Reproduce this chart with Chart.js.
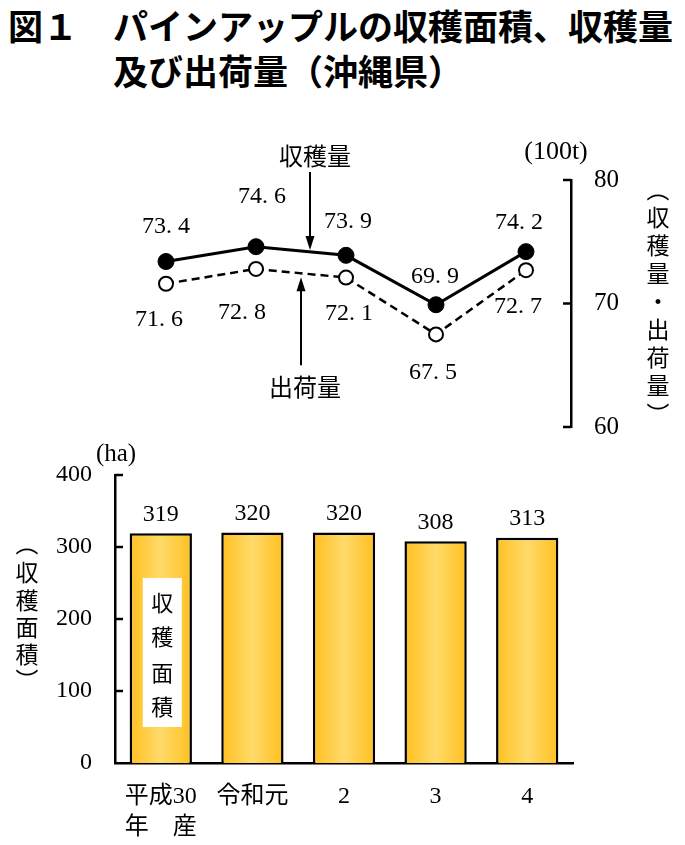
<!DOCTYPE html>
<html>
<head>
<meta charset="utf-8">
<script src="https://cdn.jsdelivr.net/npm/chart.js@4.4.0/dist/chart.umd.min.js"></script>
<style>
body{margin:0;background:#fff;width:685px;height:845px;position:relative;overflow:hidden;font-family:"Noto Sans CJK JP",sans-serif;color:#000}
.t{position:absolute;font-size:35px;font-weight:bold;line-height:1;white-space:nowrap}
#lineBox{position:absolute;left:0;top:130px;width:685px;height:335px}
#barBox{position:absolute;left:0;top:437px;width:685px;height:408px}
</style>
</head>
<body>
<div class="t" style="left:8px;top:7px">図１</div>
<div class="t" style="left:113px;top:7px">パインアップルの収穫面積、収穫量</div>
<div class="t" style="left:113px;top:52px">及び出荷量（沖縄県）</div>
<div id="lineBox"><canvas id="lineChart"></canvas></div>
<div id="barBox"><canvas id="barChart"></canvas></div>
<script>
// ---- data ----
var categories = [['平成30', '年　産'], '令和元', '2', '3', '4'];
var harvestArea = [319, 320, 320, 308, 313];        // ha
var harvestVolume = [73.4, 74.6, 73.9, 69.9, 74.2]; // 100t
var shipmentVolume = [71.6, 72.8, 72.1, 67.5, 72.7];// 100t
var volumeTicks = [60, 70, 80];
var areaTicks = [0, 100, 200, 300, 400];

var serif = '"Liberation Serif", "Noto Sans CJK JP", serif';
var jp = '"Noto Sans CJK JP", sans-serif';

function fmt(v) { return v.toFixed(1).replace('.', '. '); }

function arrow(c, x, y1, y2) {
    var dir = Math.sign(y2 - y1);
    c.lineWidth = 2;
    c.beginPath(); c.moveTo(x, y1); c.lineTo(x, y2 - dir * 10); c.stroke();
    c.beginPath(); c.moveTo(x, y2); c.lineTo(x - 4.5, y2 - dir * 14); c.lineTo(x + 4.5, y2 - dir * 14); c.closePath(); c.fill();
}

// vertical text, brackets turned on their side
function vText(c, chars, x, ys) {
    chars.forEach(function (ch, i) {
        if (ch === '（' || ch === '）') {
            c.save(); c.translate(x, ys[i]); c.rotate(Math.PI / 2); c.fillText(ch, 0, 0); c.restore();
        } else {
            c.fillText(ch, x, ys[i]);
        }
    });
}

// ---- line chart :: 収穫量・出荷量 ----
var harvestShift = [[0, -35], [6, -50], [2, -34], [-1, -28], [-7, -29]];
var shipShift = [[-7, 36], [-14, 44], [3, 36], [-3, 38], [-8, 37]];

var lineExtras = {
    id: 'lineExtras',
    afterDatasetsDraw: function (chart) {
        var c = chart.ctx, xs = chart.scales.x, ys = chart.scales.y, a = chart.chartArea;
        c.save();
        c.fillStyle = '#000'; c.strokeStyle = '#000';
        c.textAlign = 'center'; c.textBaseline = 'middle';
        c.font = '24px ' + serif;
        chart.getDatasetMeta(0).data.forEach(function (p, i) {
            c.fillText(fmt(harvestVolume[i]), p.x + harvestShift[i][0], p.y + harvestShift[i][1]);
        });
        chart.getDatasetMeta(1).data.forEach(function (p, i) {
            c.fillText(fmt(shipmentVolume[i]), p.x + shipShift[i][0], p.y + shipShift[i][1]);
        });
        // inward ticks on the right axis
        c.lineWidth = 2.5;
        volumeTicks.forEach(function (t) {
            var y = ys.getPixelForValue(t);
            c.beginPath(); c.moveTo(a.right - 8, y); c.lineTo(a.right, y); c.stroke();
        });
        // arrows with series names
        var x1 = xs.getPixelForValue(1), x2 = xs.getPixelForValue(2);
        var hx = x1 + 0.6 * (x2 - x1);
        var hy = ys.getPixelForValue(harvestVolume[1] + 0.6 * (harvestVolume[2] - harvestVolume[1])) - 2;
        arrow(c, hx, hy - 78, hy);
        var sx = x1 + 0.5 * (x2 - x1);
        var sy = ys.getPixelForValue(shipmentVolume[1] + 0.5 * (shipmentVolume[2] - shipmentVolume[1])) + 4;
        arrow(c, sx, sy + 88, sy);
        c.font = '24px ' + jp;
        c.fillText('収穫量', hx + 5, hy - 94);
        c.fillText('出荷量', sx + 4, sy + 110);
        // unit and axis title
        c.font = '26px ' + serif;
        c.fillText('(100t)', a.right - 15, a.top - 28);
        c.font = '23px ' + jp;
        var t = a.top;
        vText(c, ['（', '収', '穫', '量', '・', '出', '荷', '量', '）'], chart.width - 27,
            [t + 10, t + 37, t + 65, t + 93, t + 121, t + 149, t + 177, t + 205, t + 234]);
        c.restore();
    }
};

var ctx = document.getElementById('lineChart').getContext('2d');
var lineChart = new Chart(ctx, {
    type: 'line',
    data: {
        labels: categories,
        datasets: [{
            label: '収穫量',
            data: harvestVolume,
            borderColor: '#000',
            borderWidth: 3,
            pointRadius: 8,
            pointBackgroundColor: '#000',
            pointBorderColor: '#000',
            pointBorderWidth: 1
        }, {
            label: '出荷量',
            data: shipmentVolume,
            borderColor: '#000',
            borderWidth: 2.5,
            borderDash: [8, 5],
            pointRadius: 7,
            pointBackgroundColor: '#fff',
            pointBorderColor: '#000',
            pointBorderWidth: 2
        }]
    },
    options: {
        responsive: true,
        maintainAspectRatio: false,
        animation: false,
        clip: false,
        layout: { padding: { left: 121, right: 54, top: 50, bottom: 38 } },
        plugins: { legend: { display: false }, tooltip: { enabled: false } },
        scales: {
            x: { display: false, offset: true },
            y: {
                position: 'right',
                min: volumeTicks[0],
                max: volumeTicks[volumeTicks.length - 1],
                ticks: { stepSize: 10, color: '#000', padding: 23, font: { family: serif, size: 25 } },
                grid: { display: false, drawTicks: false },
                border: { color: '#000', width: 2.5 },
                afterFit: function (s) { s.width = 60; }
            }
        }
    },
    plugins: [lineExtras]
});

// ---- bar chart :: 収穫面積 ----
var barExtras = {
    id: 'barExtras',
    afterDatasetsDraw: function (chart) {
        var c = chart.ctx, ys = chart.scales.y, a = chart.chartArea;
        c.save();
        c.fillStyle = '#000'; c.strokeStyle = '#000';
        c.textAlign = 'center'; c.textBaseline = 'middle';
        var bars = chart.getDatasetMeta(0).data;
        c.font = '24px ' + serif;
        bars.forEach(function (b, i) { c.fillText(String(harvestArea[i]), b.x, b.y - 19); });
        // inward ticks on the left axis
        c.lineWidth = 2.5;
        areaTicks.slice(1).forEach(function (t) {
            var y = ys.getPixelForValue(t);
            c.beginPath(); c.moveTo(a.left, y); c.lineTo(a.left + 8, y); c.stroke();
        });
        // label box inside the first bar
        var b0 = bars[0];
        var top = ys.getPixelForValue(257), bot = ys.getPixelForValue(50);
        c.fillStyle = '#fff';
        c.fillRect(b0.x - 18, top, 39, bot - top);
        c.fillStyle = '#000';
        c.font = '22px ' + jp;
        vText(c, ['収', '穫', '面', '積'], b0.x + 1.5, [top + 25, top + 59, top + 95, top + 129]);
        // unit and axis title
        c.font = '25px ' + serif;
        c.fillText('(ha)', a.left + 1, a.top - 21);
        c.font = '23px ' + jp;
        var t = a.top;
        vText(c, ['（', '収', '穫', '面', '積', '）'], 27, [t + 69, t + 97, t + 125, t + 152, t + 179, t + 205]);
        c.restore();
    }
};

function barFill(context) {
    var ch = context.chart, sx = ch.scales.x;
    if (!sx || context.dataIndex === undefined) return '#FFC000';
    var cx = sx.getPixelForValue(context.dataIndex);
    var w = sx.width / categories.length * 0.68;
    if (!isFinite(cx) || !isFinite(w) || w <= 0) return '#FFC000';
    var g = ch.ctx.createLinearGradient(cx - w / 2, 0, cx + w / 2, 0);
    g.addColorStop(0, '#FFC01F');
    g.addColorStop(0.5, '#FFDA6A');
    g.addColorStop(1, '#FFC01F');
    return g;
}

var ctx = document.getElementById('barChart').getContext('2d');
var barChart = new Chart(ctx, {
    type: 'bar',
    data: {
        labels: categories,
        datasets: [{
            label: '収穫面積',
            data: harvestArea,
            backgroundColor: barFill,
            borderColor: '#000',
            borderWidth: 2.5,
            categoryPercentage: 1,
            barPercentage: 0.68
        }]
    },
    options: {
        responsive: true,
        maintainAspectRatio: false,
        animation: false,
        layout: { padding: { left: 55, right: 112, top: 38, bottom: 0 } },
        plugins: { legend: { display: false }, tooltip: { enabled: false } },
        scales: {
            x: {
                grid: { display: false, drawTicks: false },
                border: { color: '#000', width: 2.5 },
                ticks: { color: '#000', padding: 18, maxRotation: 0, autoSkip: false, font: { family: serif, size: 24, lineHeight: 1.3 } },
                afterFit: function (s) { s.height = 82; }
            },
            y: {
                min: areaTicks[0],
                max: areaTicks[areaTicks.length - 1],
                ticks: { stepSize: 100, color: '#000', padding: 23, font: { family: serif, size: 24 } },
                grid: { display: false, drawTicks: false },
                border: { color: '#000', width: 2.5 },
                afterFit: function (s) { s.width = 60; }
            }
        }
    },
    plugins: [barExtras]
});
</script>
</body>
</html>
